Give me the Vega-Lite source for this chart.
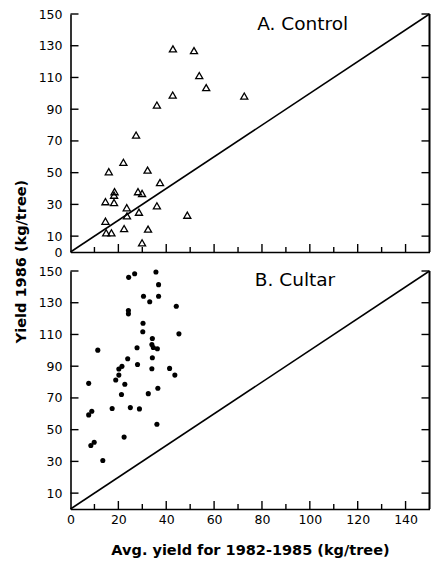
{
  "$schema": "https://vega.github.io/schema/vega-lite/v6.json",
  "background": "white",
  "padding": {"left": 12.5, "top": 8, "right": 1, "bottom": 1},
  "bounds": "flush",
  "spacing": 19,
  "config": {
    "view": {"stroke": null},
    "font": "DejaVu Sans",
    "axis": {
      "grid": false,
      "labelOverlap": false,
      "labelFont": "DejaVu Sans",
      "labelFontSize": 12.5,
      "labelColor": "black",
      "domainColor": "black",
      "domainWidth": 1.6,
      "titleFont": "DejaVu Sans",
      "titleFontWeight": "bold",
      "titleFontSize": 14.5,
      "titleColor": "black"
    }
  },
  "datasets": {
    "diag": [{"x": 0, "y": 0}, {"x": 150, "y": 150}],
    "labA": [{"label": "A. Control"}],
    "labB": [{"label": "B. Cultar"}],
    "yticks": [{"v": 10}, {"v": 30}, {"v": 50}, {"v": 70}, {"v": 90}, {"v": 110}, {"v": 130}, {"v": 150}],
    "xmajor": [{"v": 20}, {"v": 40}, {"v": 60}, {"v": 80}, {"v": 100}, {"v": 120}, {"v": 140}],
    "xminor": [{"v": 10}, {"v": 30}, {"v": 50}, {"v": 70}, {"v": 90}, {"v": 110}, {"v": 130}],
    "control": [
      {"x": 42.8, "y": 128.0}, {"x": 51.6, "y": 126.9}, {"x": 53.8, "y": 111.2}, {"x": 56.7, "y": 103.6},
      {"x": 72.6, "y": 98.3}, {"x": 42.7, "y": 98.9}, {"x": 36.1, "y": 92.6}, {"x": 27.4, "y": 73.7},
      {"x": 22.1, "y": 56.5}, {"x": 16.0, "y": 50.6}, {"x": 32.2, "y": 51.6}, {"x": 37.4, "y": 43.8},
      {"x": 18.4, "y": 38.0}, {"x": 18.2, "y": 35.8}, {"x": 28.2, "y": 38.0}, {"x": 29.9, "y": 36.9},
      {"x": 14.6, "y": 31.7}, {"x": 18.2, "y": 31.2}, {"x": 23.5, "y": 27.9}, {"x": 23.6, "y": 22.8},
      {"x": 28.6, "y": 25.1}, {"x": 36.1, "y": 29.1}, {"x": 48.8, "y": 23.2}, {"x": 14.6, "y": 19.4},
      {"x": 22.4, "y": 14.8}, {"x": 32.4, "y": 14.4}, {"x": 14.9, "y": 12.1}, {"x": 17.1, "y": 12.1},
      {"x": 29.9, "y": 5.8}
    ],
    "cultar": [
      {"x": 24.3, "y": 146.0}, {"x": 26.8, "y": 148.3}, {"x": 35.7, "y": 149.4}, {"x": 36.8, "y": 141.4},
      {"x": 36.8, "y": 134.1}, {"x": 30.5, "y": 134.1}, {"x": 33.1, "y": 130.6}, {"x": 44.2, "y": 127.8},
      {"x": 24.2, "y": 125.1}, {"x": 24.2, "y": 123.0}, {"x": 30.3, "y": 117.1}, {"x": 30.2, "y": 111.7},
      {"x": 45.3, "y": 110.4}, {"x": 34.2, "y": 107.5}, {"x": 34.0, "y": 103.7}, {"x": 34.6, "y": 101.8},
      {"x": 36.3, "y": 101.0}, {"x": 27.8, "y": 101.6}, {"x": 11.4, "y": 100.1}, {"x": 34.2, "y": 95.3},
      {"x": 23.9, "y": 94.7}, {"x": 28.0, "y": 91.1}, {"x": 21.5, "y": 89.9}, {"x": 20.2, "y": 88.2},
      {"x": 34.0, "y": 88.4}, {"x": 41.4, "y": 88.6}, {"x": 20.2, "y": 84.4}, {"x": 43.6, "y": 84.4},
      {"x": 18.9, "y": 81.3}, {"x": 22.7, "y": 78.6}, {"x": 7.6, "y": 79.2}, {"x": 21.3, "y": 72.2},
      {"x": 32.5, "y": 72.7}, {"x": 36.5, "y": 76.1}, {"x": 17.4, "y": 63.3}, {"x": 25.0, "y": 63.9},
      {"x": 28.8, "y": 63.1}, {"x": 8.9, "y": 61.6}, {"x": 7.6, "y": 59.3}, {"x": 36.1, "y": 53.4},
      {"x": 22.4, "y": 45.3}, {"x": 9.9, "y": 42.1}, {"x": 8.5, "y": 40.0}, {"x": 13.5, "y": 30.6}
    ]
  },
  "vconcat": [
    {
      "width": 359,
      "height": 238,
      "resolve": {"axis": {"x": "independent", "y": "independent"}},
      "layer": [
        {
          "data": {"name": "diag"},
          "mark": {"type": "line", "color": "black", "strokeWidth": 1.5},
          "encoding": {
            "x": {"field": "x", "type": "quantitative", "scale": {"domain": [0, 150], "nice": false},
              "axis": {"orient": "bottom", "ticks": false, "labels": false, "title": null}},
            "y": {"field": "y", "type": "quantitative", "scale": {"domain": [0, 150], "nice": false},
              "axis": {"orient": "left", "values": [0, 10, 30, 50, 70, 90, 110, 130, 150], "ticks": false, "labelPadding": 8.5,
                "title": "Yield 1986 (kg/tree)", "titleY": 247, "titlePadding": 10}}
          }
        },
        {
          "data": {"name": "diag"},
          "mark": {"type": "rule", "color": "black", "strokeWidth": 1.6},
          "encoding": {"x": {"datum": 150, "type": "quantitative", "axis": null}}
        },
        {
          "data": {"name": "yticks"},
          "mark": {"type": "point", "shape": "stroke", "filled": false, "stroke": "black", "strokeWidth": 1.4, "size": 64, "xOffset": 4, "opacity": 1},
          "encoding": {"x": {"datum": 0, "type": "quantitative", "axis": null}, "y": {"field": "v", "type": "quantitative", "axis": null}}
        },
        {
          "data": {"name": "yticks"},
          "mark": {"type": "point", "shape": "stroke", "filled": false, "stroke": "black", "strokeWidth": 1.4, "size": 64, "xOffset": -4, "opacity": 1},
          "encoding": {"x": {"datum": 150, "type": "quantitative", "axis": null}, "y": {"field": "v", "type": "quantitative", "axis": null}}
        },
        {
          "data": {"name": "xmajor"},
          "mark": {"type": "point", "shape": "stroke", "angle": 90, "filled": false, "stroke": "black", "strokeWidth": 1.4, "size": 64, "yOffset": -4, "opacity": 1},
          "encoding": {"x": {"field": "v", "type": "quantitative", "axis": null}, "y": {"datum": 0, "type": "quantitative", "axis": null}}
        },
        {
          "data": {"name": "xminor"},
          "mark": {"type": "point", "shape": "stroke", "angle": 90, "filled": false, "stroke": "black", "strokeWidth": 1.4, "size": 25, "yOffset": -2.5, "opacity": 1},
          "encoding": {"x": {"field": "v", "type": "quantitative", "axis": null}, "y": {"datum": 0, "type": "quantitative", "axis": null}}
        },
        {
          "data": {"name": "control"},
          "mark": {"type": "point", "shape": "triangle-up", "filled": false, "stroke": "black", "strokeWidth": 1.3, "size": 50, "opacity": 1},
          "encoding": {
            "x": {"field": "x", "type": "quantitative", "axis": null},
            "y": {"field": "y", "type": "quantitative", "axis": null}
          }
        },
        {
          "data": {"name": "labA"},
          "mark": {"type": "text", "align": "left", "baseline": "middle", "fontSize": 18.5, "font": "DejaVu Sans", "color": "black"},
          "encoding": {
            "x": {"datum": 78, "type": "quantitative", "axis": null},
            "y": {"datum": 144, "type": "quantitative", "axis": null},
            "text": {"field": "label"}
          }
        }
      ]
    },
    {
      "width": 359,
      "height": 238,
      "resolve": {"axis": {"x": "independent", "y": "independent"}},
      "layer": [
        {
          "data": {"name": "diag"},
          "mark": {"type": "line", "color": "black", "strokeWidth": 1.5},
          "encoding": {
            "x": {"field": "x", "type": "quantitative", "scale": {"domain": [0, 150], "nice": false},
              "axis": {"orient": "bottom", "values": [0, 20, 40, 60, 80, 100, 120, 140], "ticks": false,
                "labelPadding": 4, "labelFlush": false,
                "title": "Avg. yield for 1982-1985 (kg/tree)", "titlePadding": 18}},
            "y": {"field": "y", "type": "quantitative", "scale": {"domain": [0, 150], "nice": false},
              "axis": {"orient": "left", "values": [10, 30, 50, 70, 90, 110, 130, 150], "ticks": false, "labelPadding": 8.5, "title": null}}
          }
        },
        {
          "data": {"name": "diag"},
          "mark": {"type": "rule", "color": "black", "strokeWidth": 1.6},
          "encoding": {"x": {"datum": 150, "type": "quantitative", "axis": null}}
        },
        {
          "data": {"name": "yticks"},
          "mark": {"type": "point", "shape": "stroke", "filled": false, "stroke": "black", "strokeWidth": 1.4, "size": 64, "xOffset": 4, "opacity": 1},
          "encoding": {"x": {"datum": 0, "type": "quantitative", "axis": null}, "y": {"field": "v", "type": "quantitative", "axis": null}}
        },
        {
          "data": {"name": "yticks"},
          "mark": {"type": "point", "shape": "stroke", "filled": false, "stroke": "black", "strokeWidth": 1.4, "size": 64, "xOffset": -4, "opacity": 1},
          "encoding": {"x": {"datum": 150, "type": "quantitative", "axis": null}, "y": {"field": "v", "type": "quantitative", "axis": null}}
        },
        {
          "data": {"name": "xmajor"},
          "mark": {"type": "point", "shape": "stroke", "angle": 90, "filled": false, "stroke": "black", "strokeWidth": 1.4, "size": 64, "yOffset": -4, "opacity": 1},
          "encoding": {"x": {"field": "v", "type": "quantitative", "axis": null}, "y": {"datum": 0, "type": "quantitative", "axis": null}}
        },
        {
          "data": {"name": "xminor"},
          "mark": {"type": "point", "shape": "stroke", "angle": 90, "filled": false, "stroke": "black", "strokeWidth": 1.4, "size": 25, "yOffset": -2.5, "opacity": 1},
          "encoding": {"x": {"field": "v", "type": "quantitative", "axis": null}, "y": {"datum": 0, "type": "quantitative", "axis": null}}
        },
        {
          "data": {"name": "cultar"},
          "mark": {"type": "point", "shape": "circle", "filled": true, "color": "black", "size": 26, "opacity": 1},
          "encoding": {
            "x": {"field": "x", "type": "quantitative", "axis": null},
            "y": {"field": "y", "type": "quantitative", "axis": null}
          }
        },
        {
          "data": {"name": "labB"},
          "mark": {"type": "text", "align": "left", "baseline": "middle", "fontSize": 18.5, "font": "DejaVu Sans", "color": "black"},
          "encoding": {
            "x": {"datum": 77, "type": "quantitative", "axis": null},
            "y": {"datum": 144.5, "type": "quantitative", "axis": null},
            "text": {"field": "label"}
          }
        }
      ]
    }
  ]
}
